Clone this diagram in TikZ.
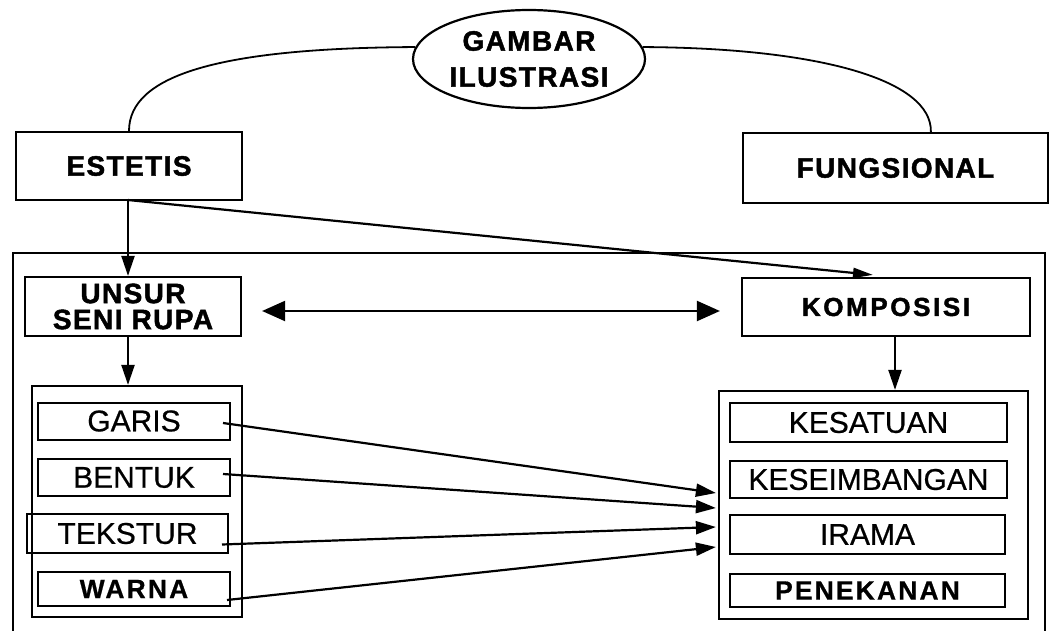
\documentclass[tikz,border=0pt]{standalone}
\usepackage{fontspec}
\setmainfont{Liberation Sans}[FakeBold=0.6]
\newfontfamily\hdrfont{Liberation Sans}[LetterSpace=5,FakeBold=1.6]
\newfontfamily\hdrwide{Liberation Sans}[LetterSpace=10,FakeBold=1.6]
\newfontfamily\itemboldfont{Liberation Sans}[LetterSpace=8,FakeBold=0.6]
\usetikzlibrary{arrows.meta,calc,shapes.geometric}
\begin{document}
\begin{tikzpicture}[x=1pt,y=-1pt,
  box/.style={draw,line width=2.2pt,inner sep=0pt,align=center},
  hdr/.style={font=\hdrfont\bfseries\fontsize{28}{31}\selectfont},
  item/.style={box,line width=2pt,font=\fontsize{30}{32}\selectfont},
  itemb/.style={box,line width=2pt,font=\itemboldfont\bfseries\fontsize{26.5}{28}\selectfont},
  arr/.style={line width=2.2pt,-{Triangle[length=20pt,width=13pt]}},
  thinarr/.style={line width=2.2pt,-{Triangle[length=20pt,width=10pt]}},
  dblarr/.style={line width=2.2pt,{Triangle[length=23pt,width=20pt]}-{Triangle[length=23pt,width=20pt]}}]
\useasboundingbox[fill=white] (0,0) rectangle (1049,631);

% top level
\node[ellipse,draw,line width=2.2pt,minimum width=232pt,minimum height=98pt,inner sep=0pt,align=center,
      font=\hdrfont\bfseries\fontsize{28}{36}\selectfont] (gambar) at (529,59) {GAMBAR\\ILUSTRASI};
\node[box,hdr,minimum width=226pt,minimum height=68pt] (estetis) at (129,166) {ESTETIS};
\node[box,hdr,minimum width=305pt,minimum height=70pt] (fungsi) at (895.5,168) {FUNGSIONAL};

\draw[line width=1.8pt] (estetis.north) .. controls (129,75) and (220,48) .. (gambar.174);
\coordinate (fr) at ($(fungsi.north west)+(189,0)$);
\draw[line width=1.8pt] (gambar.6) .. controls (820,48) and (932,80) .. (fr);

% big frame
\draw[line width=2.2pt] (13,631) -- (13,253) -- (1045,253) -- (1045,631);

% second level
\node[box,minimum width=216pt,minimum height=59pt,font=\hdrfont\bfseries\fontsize{28}{26}\selectfont] (unsur) at (133,306.5) {UNSUR\\SENI RUPA};
\node[box,minimum width=288pt,minimum height=58pt,font=\hdrwide\bfseries\fontsize{26}{28}\selectfont] (kompo) at (886,307) {KOMPOSISI};

% groups
\node[box,minimum width=210pt,minimum height=231pt] (lg) at (137,501.5) {};
\node[box,minimum width=309pt,minimum height=228pt] (rg) at (873.5,505) {};

\node[item,minimum width=192pt,minimum height=37pt] (garis) at (134,421) {GARIS};
\node[item,minimum width=192pt,minimum height=37pt] (bentuk) at (134,477.5) {BENTUK};
\node[item,minimum width=201pt,minimum height=39pt] (tekstur) at (127.5,533.5) {TEKSTUR};
\node[itemb,minimum width=192pt,minimum height=34pt] (warna) at (134,589) {WARNA};

\node[item,minimum width=277pt,minimum height=39pt] (kesatuan) at (868.5,422.5) {KESATUAN};
\node[item,minimum width=277pt,minimum height=37pt] (keseimb) at (868.5,479.5) {KESEIMBANGAN};
\node[item,minimum width=275pt,minimum height=39pt] (irama) at (867.5,534.5) {IRAMA};
\node[itemb,minimum width=275pt,minimum height=33pt] (penek) at (867.5,590.5) {PENEKANAN};

% connectors
\coordinate (es) at (128,200);
\draw[arr] (es) -- (es |- unsur.north);
\draw[thinarr] (es) -- ($(kompo.north)+(-13,-2)$);
\draw[arr] (unsur.south -| es) -- (es |- lg.north);
\draw[arr] ($(kompo.south)+(9,0)$) -- ($(kompo.south |- rg.north)+(9,0)$);
\draw[dblarr,shorten <=20pt,shorten >=21pt] ($(unsur.east)+(0,4.5)$) -- ($(kompo.west)+(0,4)$);

\coordinate (t1) at ($(rg.west)+(-2,-12)$);
\coordinate (t2) at ($(rg.west)+(-2,3)$);
\coordinate (t3) at ($(rg.west)+(-2,22)$);
\coordinate (t4) at ($(rg.west)+(-2,42)$);
\draw[arr] ($(garis.east)+(-8,2)$) -- (t1);
\draw[arr] ($(bentuk.east)+(-8,-3.5)$) -- (t2);
\draw[arr] ($(tekstur.east)+(-7,11)$) -- (t3);
\draw[arr] ($(warna.east)+(-4,11)$) -- (t4);
\end{tikzpicture}
\end{document}
